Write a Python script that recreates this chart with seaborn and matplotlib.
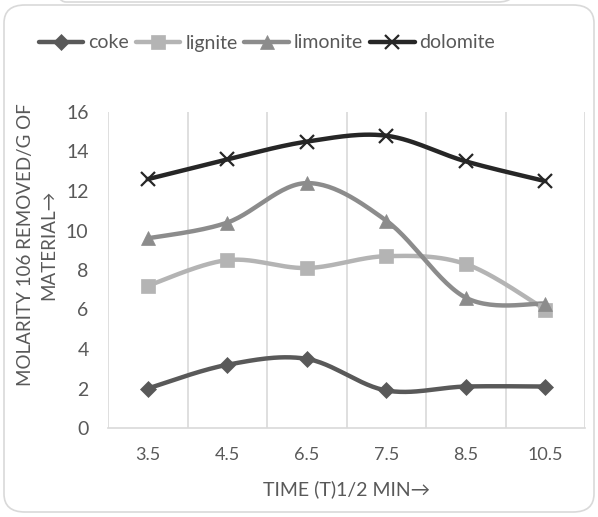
import numpy as np
import pandas as pd
import matplotlib
matplotlib.use("Agg")
import matplotlib.pyplot as plt
from matplotlib.lines import Line2D
from matplotlib.patches import FancyBboxPatch
import seaborn as sns

categories = ["3.5", "4.5", "6.5", "7.5", "8.5", "10.5"]
coke = [2.0, 3.2, 3.5, 1.9, 2.1, 2.1]
lignite = [7.2, 8.5, 8.1, 8.7, 8.3, 6.0]
limonite = [9.6, 10.4, 12.4, 10.5, 6.6, 6.3]
dolomite = [12.6, 13.6, 14.5, 14.8, 13.5, 12.5]

series_names = ["coke", "lignite", "limonite", "dolomite"]
series_vals = [coke, lignite, limonite, dolomite]
colors = {"coke": "#595959", "lignite": "#b4b4b4", "limonite": "#8c8c8c", "dolomite": "#262626"}
markers = {"coke": "D", "lignite": "s", "limonite": "^", "dolomite": "x"}
msizes = {"coke": 8, "lignite": 9.5, "limonite": 9.5, "dolomite": 10}

sns.set_theme(style="white")
plt.rcParams["font.family"] = ["Lato", "DejaVu Sans"]
text_color = "#595959"

fig = plt.figure(figsize=(5.98, 5.17), dpi=100)
ax = fig.add_axes([108 / 598, 1 - 428 / 517, (585 - 108) / 598, (428 - 112) / 517])

# outer rounded frames
fig.patches.append(FancyBboxPatch((4 / 598, 5 / 517), 590 / 598, 507 / 517,
                                  boxstyle="round,pad=0,rounding_size=0.035",
                                  transform=fig.transFigure, fill=False,
                                  edgecolor="#d9d9d9", linewidth=1.2))
fig.patches.append(FancyBboxPatch((48 / 598, 1 - 2 / 517), 468 / 598, 0.2,
                                  boxstyle="round,pad=0,rounding_size=0.03",
                                  transform=fig.transFigure, fill=False,
                                  edgecolor="#d9d9d9", linewidth=1.2))


def smooth(xs, ys, n=30):
    p = np.column_stack([xs, ys]).astype(float)
    pts = np.vstack([p[0], p, p[-1]])
    out = []
    for i in range(1, len(pts) - 2):
        p0, p3 = pts[i], pts[i + 1]
        p1 = p0 + (pts[i + 1] - pts[i - 1]) / 6
        p2 = p3 - (pts[i + 2] - pts[i]) / 6
        t = np.linspace(0, 1, n)[:, None]
        seg = (1 - t) ** 3 * p0 + 3 * (1 - t) ** 2 * t * p1 + 3 * (1 - t) * t ** 2 * p2 + t ** 3 * p3
        out.append(seg if i == 1 else seg[1:])
    s = np.vstack(out)
    return s[:, 0], s[:, 1]


xpos = np.arange(len(categories))
rows = []
curve_rows = []
for name, vals in zip(series_names, series_vals):
    for x, v in zip(xpos, vals):
        rows.append({"x": x, "y": v, "series": name})
    cx, cy = smooth(xpos, vals)
    for k, (a, b) in enumerate(zip(cx, cy)):
        curve_rows.append({"x": a, "y": b, "series": name, "k": k})
df = pd.DataFrame(rows)
cdf = pd.DataFrame(curve_rows)

sns.lineplot(data=cdf, x="x", y="y", hue="series", palette=colors, estimator=None,
             sort=False, units="series", linewidth=3.2, legend=False, ax=ax,
             hue_order=series_names)
for name in series_names:
    sub = df[df.series == name]
    ax.plot(sub.x, sub.y, linestyle="none", marker=markers[name], markersize=msizes[name],
            color=colors[name], markeredgewidth=1.6 if name == "dolomite" else 0.5,
            markeredgecolor=colors[name], zorder=5)

ax.set_xlim(-0.5, len(categories) - 0.5)
ax.set_ylim(0, 16)
ax.set_yticks(np.arange(0, 17, 2))
ax.set_xticks(xpos)
ax.set_xticklabels(categories)
ax.tick_params(axis="x", length=0, pad=14, labelsize=13, colors=text_color)
ax.tick_params(axis="y", length=0, pad=14, labelsize=14, colors=text_color)
for b in np.arange(-0.5, len(categories), 1.0):
    ax.axvline(b, color="#d9d9d9", linewidth=1.2, zorder=0)
for s in ["top", "right", "left"]:
    ax.spines[s].set_visible(False)
ax.spines["bottom"].set_color("#d9d9d9")
ax.spines["bottom"].set_linewidth(1.2)
ax.set_xlabel("TIME (T)1/2 MIN\u2192", fontsize=14, color=text_color, labelpad=12)
ax.set_ylabel("")
fig.text(37 / 598, 272 / 517, "MOLARITY 106 REMOVED/G OF\nMATERIAL\u2192", rotation=90,
         ha="center", va="center", fontsize=13.5, color=text_color, linespacing=1.45,
         multialignment="center")

handles = [Line2D([0], [0], color=colors[n], linewidth=3.2, marker=markers[n],
                  markersize=msizes[n], markeredgewidth=1.6 if n == "dolomite" else 0.5,
                  markeredgecolor=colors[n]) for n in series_names]
fig.legend(handles, series_names, loc="center", bbox_to_anchor=(267 / 598, 1 - 43 / 517),
           ncol=4, frameon=False, fontsize=14, handlelength=2.3, handletextpad=0.25,
           columnspacing=0.35, labelcolor=text_color)

fig.savefig("out.png", dpi=100)
